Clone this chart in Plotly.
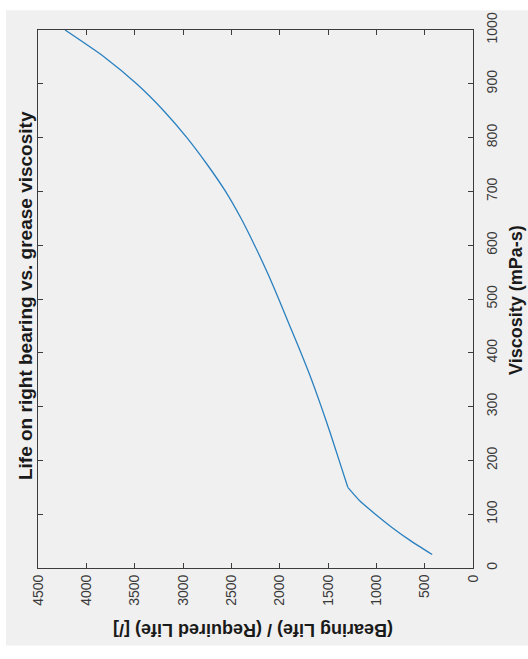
import plotly.graph_objects as go

# Grease viscosity (mPa-s) and resulting bearing life ratio
viscosity = [25, 50, 75, 100, 125, 150, 200, 250, 300, 350, 400, 450, 500,
             550, 600, 650, 700, 750, 800, 850, 900, 950, 1000]
life_ratio = [422, 640, 835, 1010, 1172, 1295, 1385, 1475, 1570, 1670, 1780,
              1895, 2010, 2130, 2260, 2400, 2560, 2750, 2960, 3200, 3480,
              3815, 4220]

life_ticks = [0, 500, 1000, 1500, 2000, 2500, 3000, 3500, 4000, 4500]
visc_ticks = [0, 100, 200, 300, 400, 500, 600, 700, 800, 900, 1000]

W, H = 528, 659
L, R, T, B = 38, 55, 20, 91
pw, ph = W - L - R, H - T - B


def px(x):
    return (x - L) / pw


def py(y):
    return (H - B - y) / ph


FONT = "Liberation Sans, Arial, Helvetica, sans-serif"
AX = "#3c3c3c"

fig = go.Figure()
# low-viscosity branch up to the knee, then the smooth upper branch
knee = viscosity.index(150)
fig.add_trace(go.Scatter(
    x=life_ratio[:knee + 1], y=viscosity[:knee + 1], mode="lines",
    line=dict(color="#2a80bf", width=1.3, shape="spline", smoothing=0.5),
    showlegend=False, hoverinfo="skip",
))
fig.add_trace(go.Scatter(
    x=life_ratio[knee:], y=viscosity[knee:], mode="lines",
    line=dict(color="#2a80bf", width=1.3, shape="spline", smoothing=0.6),
    showlegend=False, hoverinfo="skip",
))

axis_common = dict(
    showgrid=False, zeroline=False, showline=True, linecolor=AX,
    linewidth=1, mirror="ticks", ticks="inside", ticklen=5,
    tickcolor=AX, tickangle=-90,
    tickfont=dict(family=FONT, size=14, color="#3a3a3a"),
)

fig.update_xaxes(range=[4500, 0], tickvals=life_ticks,
                 ticktext=[str(v) for v in life_ticks], **axis_common)
fig.update_yaxes(range=[0, 1000], tickvals=visc_ticks, side="right",
                 ticktext=[str(v) for v in visc_ticks],
                 ticklabelstandoff=6, **axis_common)

fig.update_layout(
    width=W, height=H,
    margin=dict(l=L, r=R, t=T, b=B),
    paper_bgcolor="white",
    plot_bgcolor="white",
    shapes=[dict(type="rect", xref="paper", yref="paper", layer="below",
                 x0=px(6), x1=px(W), y0=py(647), y1=py(0),
                 fillcolor="#f0f0f0", line=dict(width=0))],
    annotations=[
        dict(text="<b>Life on right bearing vs. grease viscosity</b>",
             xref="paper", yref="paper", x=px(25), y=py(291),
             xanchor="center", yanchor="middle",
             showarrow=False, textangle=-90,
             font=dict(family=FONT, size=19, color="#1a1a1a")),
        dict(text="<b>Viscosity (mPa-s)</b>",
             xref="paper", yref="paper", x=px(516), y=py(295),
             xanchor="center", yanchor="middle",
             showarrow=False, textangle=-90,
             font=dict(family=FONT, size=18, color="#1a1a1a")),
        dict(text="<b>(Bearing Life) / (Required Life) [/]</b>",
             xref="paper", yref="paper", x=px(253), y=py(631),
             xanchor="center", yanchor="middle",
             showarrow=False, textangle=180,
             font=dict(family=FONT, size=18, color="#1a1a1a")),
    ],
)

fig.write_html("out.html")
